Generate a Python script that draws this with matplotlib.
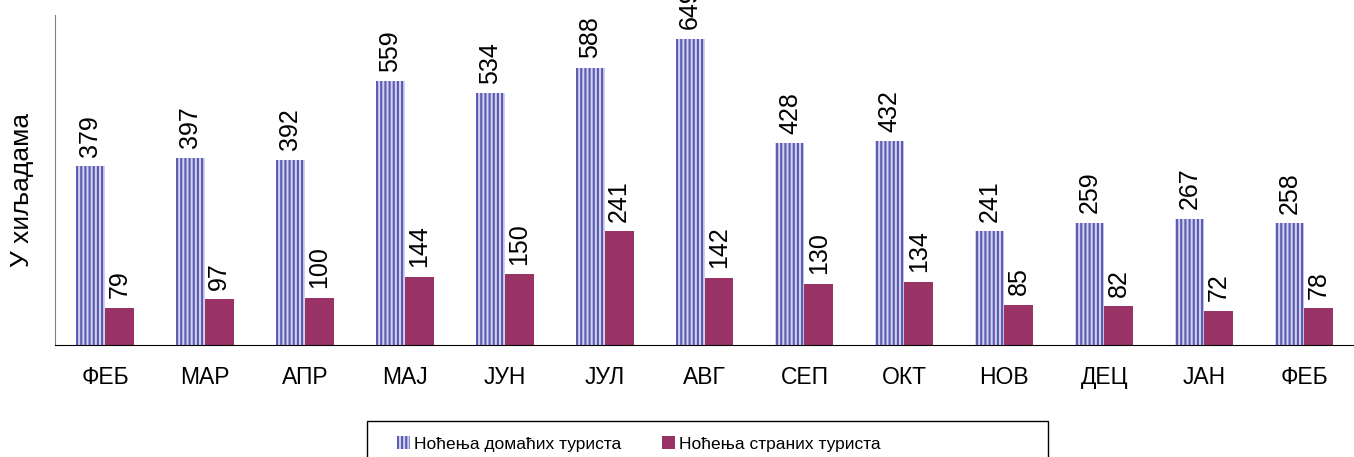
import matplotlib
matplotlib.use("Agg")
import matplotlib.pyplot as plt
from matplotlib.patches import Rectangle
import numpy as np

plt.rcParams['font.family'] = ['Liberation Sans', 'DejaVu Sans']
plt.rcParams['hatch.linewidth'] = 1.5
plt.rcParams['hatch.color'] = '#5a5ab4'

months = ["ФЕБ", "МАР", "АПР", "МАЈ", "ЈУН", "ЈУЛ", "АВГ", "СЕП", "ОКТ", "НОВ", "ДЕЦ", "ЈАН", "ФЕБ"]
domestic = [379, 397, 392, 559, 534, 588, 649, 428, 432, 241, 259, 267, 258]
foreign = [79, 97, 100, 144, 150, 241, 142, 130, 134, 85, 82, 72, 78]
series_names = ["Ноћења домаћих туриста", "Ноћења страних туриста"]
ylabel = "У хиљадама"

W, H = 1354, 457
fig = plt.figure(figsize=(W/100, H/100), dpi=100)
ax = fig.add_axes([55/W, (H-345)/H, 1 - 55/W, (345-15)/H])

x = np.arange(len(months))
w = 0.29
b1 = ax.bar(x - w/2, domestic, width=w, facecolor='#d2d2ee', edgecolor='#5a5ab4',
            hatch='||||', linewidth=0, label=series_names[0])
b2 = ax.bar(x + w/2, foreign, width=w, color='#993366', linewidth=0, label=series_names[1])

for xi, v in zip(x - w/2, domestic):
    ax.annotate(str(v), (xi, v), xytext=(0, 7), textcoords='offset points',
                rotation=90, ha='center', va='bottom', fontsize=18, annotation_clip=False)
for xi, v in zip(x + w/2, foreign):
    ax.annotate(str(v), (xi, v), xytext=(0, 7), textcoords='offset points',
                rotation=90, ha='center', va='bottom', fontsize=18)

ax.set_xlim(-0.5, len(months) - 0.5)
ax.set_ylim(0, 700)
ax.set_xticks(x)
ax.set_xticklabels(months, fontsize=16.5)
ax.tick_params(axis='x', length=0, pad=15)
ax.set_yticks([])
for s in ['top', 'right']:
    ax.spines[s].set_visible(False)
ax.spines['left'].set_color('#808080')
ax.spines['bottom'].set_color('black')

fig.text(22/W, 1 - 190/H, ylabel, rotation=90, ha='center', va='center', fontsize=19)

# legend frame
fig.add_artist(Rectangle((367/W, -0.05), (1048-367)/W, 0.05 + (H-421)/H,
                         transform=fig.transFigure, fill=False, edgecolor='black',
                         linewidth=1.0))
leg_kw = dict(loc='center left', frameon=False, fontsize=12.5,
              handlelength=0.75, handleheight=0.75, handletextpad=0.25,
              borderpad=0, borderaxespad=0)
fig.legend(handles=[b1], labels=[series_names[0]],
           bbox_to_anchor=(397/W, 1 - 444/H), **leg_kw)
fig.legend(handles=[b2], labels=[series_names[1]],
           bbox_to_anchor=(662/W, 1 - 444/H), **leg_kw)

fig.savefig("out.png", dpi=100)
